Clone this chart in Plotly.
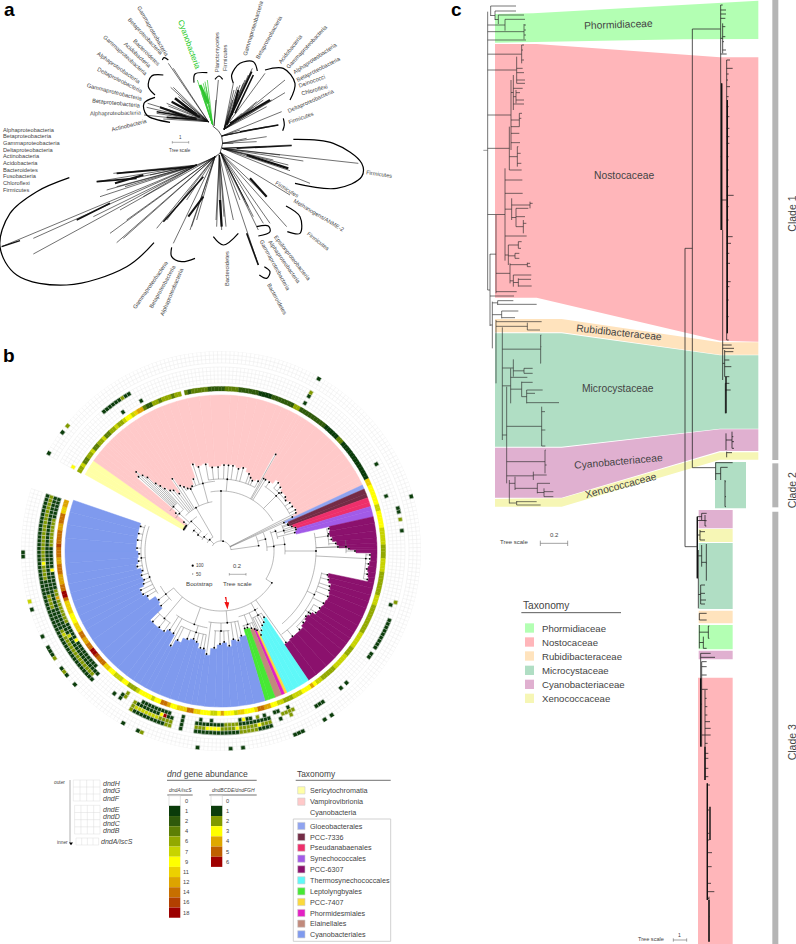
import numpy as np
import plotly.graph_objects as go

FONT = "Liberation Sans"
TXT = "#444444"

# ---------- PANEL A (values read in 3x zoom units) ----------
A_LABELS = [
 ("Gammaproteobacteria",459,92,60),("Betaproteobacteria",435,109,47),("Bacteroidetes",438,157,45),
 ("Acidobacteria",413,165,43),("Gammaproteobacteria",375,165,42),("Alphaproteobacteria",358,204,35),
 ("Deltaproteobacteria",359,240,27),("Gammaproteobacteria",343,277,14),("Betaproteobacteria",349,308,6),
 ("Alphaproteobacteria",347,338,-1),("Actinobacteria",389,376,-14),("Planctomycetes",650,158,-90),
 ("Firmicutes",677,175,-90),("Gammaproteobacteria",760,85,-73),("Betaproteobacteria",808,112,-61),
 ("Acidobacteria",871,147,-52),("Gammaproteobacteria",919,140,-47),("Alphaproteobacteria",946,173,-34),
 ("Betaproteobacteria",956,206,-27),("Deinococci",937,243,-20),("Chloroflexi",942,270,-16),
 ("Deltaproteobacteria",932,304,-24),("Firmicutes",902,355,-20),("Firmicutes",1136,523,8),
 ("Firmicutes",860,567,32),("Methanogens/ANME-2",956,645,31),("Firmicutes",954,723,38),
 ("Epsilonproteobacteria",878,773,52),("Alphaproteobacteria",854,785,55),("Gammaproteobacteria",825,794,61),
 ("Bacteroidetes",832,896,61),("Bacteroidetes",683,805,-90),("Alphaproteobacteria",517,874,-67),
 ("Betaproteobacteria",486,860,-61),("Gammaproteobacteria",451,855,-55),
]
A_LIST = ["Alphaproteobacteria","Betaproteobacteria","Gammaproteobacteria","Deltaproteobacteria","Actinobacteria",
          "Acidobacteria","Bacteroidetes","Fusobacteria","Chloroflexi","Firmicutes"]
A_CENTRAL = [(638,378),(655,392),(665,408),(668,430),(660,460),(645,470)]
A_GROUPS = [
 ((625,365),[(443,310),(440,322),(432,345),(470,340),(490,357),(520,345),(500,310),(505,318),(515,305),(525,295),(535,290),(512,262),(520,262),(545,300),(560,320),(580,340),(505,190),(520,205)]),
 ((642,378),[(655,240),(648,300)]),
 ((672,388),[(757,205),(745,225),(730,250),(700,250),(702,270),(698,300),(712,260),(720,255),(735,240),(795,220),(855,240),(855,278),(800,320),(760,320),(745,335),(770,305),(790,300),(815,300),(735,345),(715,350),(725,340)]),
 ((665,408),[(845,335),(835,375),(800,380),(770,385),(720,390),(700,400)]),
 ((667,430),[(800,410),(770,425),(700,430),(740,415)]),
 ((667,445),[(1075,490),(875,435),(910,483),(930,550),(870,512),(865,495),(840,465),(780,440),(800,440),(820,480),(760,470)]),
 ((662,458),[(870,585),(860,680),(800,590),(775,795),(775,690),(790,670),(760,650),(745,620),(735,600),(720,600),(810,670)]),
 ((658,465),[(650,680),(665,690),(700,660),(660,600),(648,660),(672,650),(678,680)]),
 ((645,470),[(520,730),(590,660),(570,690),(575,680),(470,685),(500,660),(560,600),(370,715),(350,728),(330,700),(380,660),(360,630),(280,650)]),
 ((590,495),[(5,740),(100,715),(100,762),(300,590),(290,545),(340,520),(350,560),(320,570),(430,590),(375,560),(400,535),(450,525),(650,470)]),
]
A_GREEN_ORIGIN = (638,375)
A_GREEN_TIPS = [(592,240),(622,240),(600,255),(605,265),(610,250),(615,245),(618,260),(605,280),(612,290),(620,280)]
A_DENSE = [((525,295),(590,345),2.6),((480,322),(560,350),2.2),((500,352),(590,358),1.6),((515,305),(600,352),2.2),((470,335),(590,355),1.6),((600,255),(625,310),3,"g"),
 ((680,375),(755,215),1.8),((705,340),(760,225),1.6),((690,370),(810,300),2.2),((695,345),(715,270),2.2),((720,395),(835,375),1.4),
 ((710,445),(875,437),1.4),((740,465),(865,505),2.2),((750,535),(800,590),2.2),((740,700),(775,795),1.6),
 ((660,600),(665,680),2.2),((490,665),(610,530),1.6),((565,650),(610,590),2),((290,545),(410,535),1.8),
 ((350,520),(580,500),1.6),((230,660),(330,610),1.6),((5,740),(60,722),1.4),((345,550),(430,525),2)]
A_ARCS = [
 [(487,180),(492,173),(505,180)],[(490,225),(455,228),(445,260),(465,285)],
 [(465,292),(432,310),(440,345),(510,367)],[(582,248),(585,222),(622,218)],
 [(645,238),(657,228),(668,238)],[(700,250),(695,225),(720,190),(760,185),(772,213)],
 [(795,210),(850,205),(885,250),(870,300)],[(850,355),(853,375),(848,392)],
 [(880,418),(1000,430),(1085,490),(1085,530),(1010,565),(885,550)],
 [(858,618),(900,650),(900,700),(862,695)],[(770,680),(805,678),(810,695),(775,708)],
 [(793,800),(810,815),(800,835),(778,825)],[(640,710),(670,735),(715,700)],
 [(515,742),(515,770),(545,785),(585,775)],
 [(462,728),(380,800),(200,855),(50,825),(0,740),(30,640),(110,575),(208,533)],
]

# ---------- PANEL B ----------
B_PALETTE_A = {0:"#ffffff",1:"#0a3b0a",2:"#2f5a0b",4:"#5d7f05",6:"#93a900",7:"#c8d400",9:"#ffff00",
               11:"#ecd000",12:"#dda400",14:"#c76f00",16:"#b24000",18:"#9c0000"}
B_PALETTE_G = {0:"#ffffff",1:"#0b3d0b",2:"#819a00",3:"#ffff00",4:"#dfa800",5:"#bf5f00",6:"#a00000"}
WEDGES = [
 ("#ffffa6",150.6,144.7,[150,148,146],[44,44,44]),
 ("#ffc9c9",144.7,25,[144,142,140,138,137,136,135,134,133,132,130,128,126,124,122,120,118,116,114,111,108,105,100,96,92,88,85,82,78,75,70,68,66,62,60.5,59.5,58,55,50,47,44,40,38,35,32,29,27,25.5],
  [44,48,60,112,117,110,105,95,90,85,80,78,72,88,78,75,72,70,72,78,92,88,89,85,85,87,87,87,85,87,83,80,78,80,112,85,85,85,90,88,85,85,83,85,85,86,85,80]),
 ("#8fa3f0",25,23.4,[24.2],[70]),
 ("#742c46",23.4,20,[22,21],[73,73]),
 ("#ee2f6b",20,16.6,[19,17.5],[76,79]),
 ("#a25be8",16.6,12.7,[16,14],[79,77]),
 ("#8b116d",12.7,-55.9,[11.7,9,6,3.8,2,1,0,-1.5,-3,-5,-7,-9,-11,-12.6,-15,-18,-20,-23,-27,-30,-33,-35,-37.5,-41,-45,-50,-54.6],
  [111,110,112,116,118,129,135,150,150,149,148,149,150,110,112,115,116,117,116,115,114,110,108,110,112,112,113]),
 ("#5ff8f8",-55.9,-65,[-57,-59,-61,-63,-64.5],[80,84,86,90,94]),
 ("#fbd93c",-65,-66,[-65.5],[88]),
 ("#e321c4",-66,-67.2,[-66.6],[86]),
 ("#c18a7c",-67.2,-69.7,[-68.5],[84]),
 ("#47e834",-69.7,-73.6,[-71,-73],[82,82]),
 ("#7f9aee",-73.6,-199,[-76.5,-79,-82,-85,-88,-90.6,-94,-98,-100,-102,-105,-107.3,-111,-116,-118,-120,-123,-125.5,-129,-134,-137.6,-142,-148.5,-151,-154,-157,-159.5,-163,-166,-169.5,-173,-178,-182,-187.5,-192,-197],
  [88,92,90,96,92,94,98,105,100,100,95,93,95,100,108,96,95,99,99,99,82,80,87,90,90,85,83,84,82,86,84,83,85,85,85,85]),
]
TREE_ARCS = [
 (10,150,6,None),(38,23,10,8),(46,24,0,15),(53,22,-32,5),(58,22,12,20),(66,23,15,18),
 (64,13,-3,6),(95,11,-50,0),(108,12,3,8),(125,5,-1,2),(145,-1,-11,-3),(103,-12,-54,-25),(107,-30,-45,-35),
 (60,-32,-142,-32),(68,-57,-75,-60),(74,-57,-65,-60),(78,-66,-74,-70),
 (72,-76,-100,-85),(80,-84,-95,-90),(85,-100,-118,-107),(78,-100,-125,-110),(88,-125,-136,-130),
 (70,-135,-150,-142),(76,-146,-199,-160),(80,-165,-199,-175),
 (16,150,120,135),(22,150,128,140),(28,148,135,145),(34,147,138,143),(42,150,125,135),
 (50,135,100,120),(56,144,132,138),(65,142,133,137),(70,120,95,105),(60,100,30,90),(72,100,62,85),
 (78,56,28,45),(82,50,38,45),
]
A_RING_RUNS = [
 (150.6,6),(149,7),(147,4),(145.5,6),(143,7),(141,4),(139.5,6),(137,7),(135,4),(133,6),(131,7),(129,6),(127,7),(125.5,9),(123,7),
 (122,11),(120.5,12),(118.5,4),(117,2),(115.5,6),(113,4),(111,6),(108,4),(106,6),(104.2,0),(103,4),(102,2),(101,0),(100,4),(95,2),
 (88,4),(84,2),(76,1),(72,2),(63,6),(61.5,2),(50,1),(44,4),(42,1),(26,11),(24,9),(16,7),(14.5,9),(8,7),(2,6),(-3,7),(-8,6),(-16,7),
 (-20,6),(-30,7),(-36,6),(-40,7),(-46,6),(-52,7),(-54,9),(-55,12),(-56.5,9),(-60,7),(-64,6),(-68,7),(-70,9),(-72,12),(-75,14),(-76.5,11),
 (-78,9),(-82,11),(-84,7),(-86,9),(-89,12),(-90.5,9),(-92,7),(-94,9),(-98,11),(-100,14),(-102,11),(-106,9),(-108,12),(-110,14),(-112,9),(-114,7),(-116,9),
 (-120,7),(-122,6),(-125,9),(-128,7),(-131,9),(-134,11),(-136,14),(-139,16),(-141,18),(-143,14),(-146,12),(-148,14),(-150,11),(-154,9),(-158,11),
 (-162,14),(-164,18),(-165.5,14),(-168,12),(-172,14),(-176,12),(-178,14),(-181,16),(-183,14),(-187,12),(-190,14),(-193,11),(-196,12),
]
TRACK_RADII = {"B":168,"C":172,"D":176,"E":180,"F":188,"G":192,"H":196}
TRACK_RUNS = [
 ("E",-198.5,-135.5,1),("D",-198.5,-136,2),("C",-198.5,-135.5,1),("B",-198,-138,1),("B",-190,-182,2),("B",-166,-156,2),
 ("D",-170,-166,1),("D",-160,-154,1),("B",175,179,3),("B",173,174,3),("D",-176.6,-175.6,3),("B",-174.6,-173.6,3),("B",-165,-164,4),("B",-149,-148,3),("D",-152.4,-151.8,7),("C",-151.4,-150.8,7),
 ("C",-97.5,-74.5,1),("D",-97.5,-74.5,2),("E",-97.5,-74.5,1),("D",-94,-91,3),("D",-85.5,-84.5,3),("D",-78.5,-77.5,3),("E",-84,-79,2),
 ("C",-88,-85,2),("B",-97,-96,1),("B",-93.5,-92.5,1),("B",-84,-80,1),("B",-82.5,-81.5,3),("B",-78,-77,2),("B",-75,-74.5,1),
 ("B",-103.5,-103,1),("C",-103.5,-103,1),("D",-103.5,-103,1),("E",-103.5,-103,1),
 ("B",-117,-108,1),("C",-118,-106,1),("C",-108.5,-108,6),("C",-109.8,-109.2,3),("D",-118,-110,7),("D",-110,-106,2),("E",-118.5,-106,1),("E",-108,-106,2),
 ("C",-120,-119.5,2),("D",-120,-119.5,2),("E",-120,-119.5,2),("B",-123.2,-122.8,2),("C",-123.2,-122.8,2),("C",-124.8,-124.3,1),("D",-125,-124.3,1),("D",-126.4,-126,1),
 ("B",60,60.5,1),("D",60,60.5,1),("E",60,60.5,2),("H",60,60.5,1),("D",29,29.5,1),("C",18.5,19,1),("H",16.4,16.8,1),
 ("E",12.7,14,1),("E",10,10.4,2),("E",5.7,6.2,1),("E",-17,-16.5,2),("D",-18.2,-17.8,1),("E",-26,-22.5,1),("E",-31.5,-27,1),
 ("E",-35.7,-34.5,1),("E",-46.2,-45.8,1),("E",-49.2,-48.8,1),("E",-58.5,-56,1),("H",-56.8,-56.4,1),("H",-59,-58.6,1),("H",-68,-65.5,1),
 ("B",-66.4,-66,1),("C",-67.6,-66,2),("D",-67.6,-66.6,2),("B",-71.5,-70,1),("C",-70,-69,2),("D",-70.6,-69.8,1),
 ("H",-84.2,-83.8,1),("H",-87.4,-87,1),("H",-96.9,-96.5,1),("H",-120.1,-119.7,1),("H",-114.9,-114.5,1),("H",-113.7,-113.3,2),
 ("H",-138.2,-137.8,1),("H",-141.3,-140.9,1),("H",-144.2,-143.8,1),("H",-143,-142.6,2),("H",-150.5,-148,1),("H",-147.7,-147.3,2),("H",-154.1,-153.7,1),
 ("H",-163.6,-163.2,1),("H",-165.7,-165.3,7),("H",177,178.6,1),("H",-179.6,-178.2,1),("H",169.8,170.2,1),
 ("H",142.7,143.1,1),("H",140.5,140.9,2),("E",120.5,130.5,1),("E",122,123,2),("B",124.6,125,1),("B",118,118.4,1),
]

LEG_A_LABELS = ["0","1","2","4","6","7","9","11","12","14","16","18"]
LEG_A_VALUES = [0,1,2,4,6,7,9,11,12,14,16,18]
LEG_G_VALUES = [0,1,2,3,4,5,6]
B_TAX_TOP = [("Sericytochromatia","#ffffa6",271),("Vampirovibrionia","#ffc9c9",305)]
B_TAX_LOW = [("Gloeobacterales","#8fa3f0",378),("PCC-7336","#742c46",411),("Pseudanabaenales","#ee2f6b",443),
 ("Synechococcales","#a25be8",476),("PCC-6307","#8b116d",508),("Thermosynechococcales","#5ff8f8",541),
 ("Leptolyngbyales","#47e834",574),("PCC-7407","#fbd93c",606),("Phormidesmiales","#e321c4",639),
 ("Elainellales","#c18a7c",671),("Cyanobacteriales","#7f9aee",703)]
GENE_LABELS = [("dndH",102.7,783.3),("dndG",102.7,790.7),("dndF",102.7,798),("dndE",102.7,809.3),
 ("dndD",102.7,816.3),("dndC",102.7,823.3),("dndB",102.7,830.3),("dndA/iscS",101,841.3)]

# ---------- PANEL C (3x zoom units; clade-3 y values have 1500 added) ----------
C_COL = {"Phormidiaceae":"#b3ffb3","Nostocaceae":"#ffb6ba","Rubidibacteraceae":"#ffe3bd",
         "Microcystaceae":"#b0dec4","Cyanobacteriaceae":"#e0b0d0","Xenococcaceae":"#f6f6b5"}
C_BANDS = [
 ("Phormidiaceae",[135,250,925,925,700,260,135],[42,40,2,117,118,125,128]),
 ("Nostocaceae",[135,260,810,925,925,810,260,135],[132,132,172,172,1025,1022,893,893]),
 ("Rubidibacteraceae",[135,335,810,925,925,810,335,135],[957,957,1027,1027,1064,1064,997,997]),
 ("Microcystaceae",[135,335,810,925,925,810,335,135],[1000,1000,1066,1066,1286,1286,1340,1340]),
 ("Cyanobacteriaceae",[135,335,810,925,925,810,335,135],[1343,1343,1288,1288,1353,1353,1493,1493]),
 ("Xenococcaceae",[135,335,810,925,925,810,335,135],[1497,1495,1357,1357,1379,1379,1520,1520]),
 ("Microcystaceae",[795,888,888,795],[1386,1386,1525,1525]),
 ("Cyanobacteriaceae",[746,848,848,746],[1530,1530,1585,1585]),
 ("Xenococcaceae",[746,848,848,746],[1587,1587,1626,1626]),
 ("Microcystaceae",[746,848,848,746],[1629,1629,1827,1827]),
 ("Rubidibacteraceae",[746,848,848,746],[1832,1832,1870,1870]),
 ("Phormidiaceae",[746,848,848,746],[1875,1875,1948,1948]),
 ("Cyanobacteriaceae",[746,848,848,746],[1952,1952,1978,1978]),
 ("Nostocaceae",[744,848,848,744],[2033,2033,2832,2832]),
]
C_LABELS = [("Phormidiaceae",505,72,-2),("Nostocaceae",522,527,0),("Rubidibacteraceae",507,998,6),
 ("Microcystaceae",505,1165,0),("Cyanobacteriaceae",504,1383,-5),("Xenococcaceae",512,1456,-15)]
CLADE_BARS = [(0,1380),(1390,1522),(1535,2832)]
CLADE_LABELS = [("Clade 1",642),("Clade 2",1472),("Clade 3",2228)]
C_VERTS_L = [
 (113,35,870),(122,18,48),(135,33,60),(145,45,72),(165,58,92),(222,72,118),
 (120,762,978),(138,645,880),(165,505,782),(178,380,510),(183,240,450),(190,225,330),(200,170,250),(215,135,190),
 (185,595,660),(198,625,680),(220,660,700),(240,605,625),(175,735,795),(180,790,850),(190,825,860),(205,835,860),
 (202,440,500),(208,340,380),(198,270,310),(205,725,745),(195,760,775),(232,788,800),
 (127,905,1045),(143,902,915),(155,933,955),(138,960,1150),(157,982,1320),(232,968,990),
 (182,1105,1210),(190,1078,1130),(272,1005,1090),(222,1105,1120),(215,1145,1190),(230,1170,1210),(275,1220,1338),
 (170,1160,1450),(178,1440,1510),(195,1430,1470),(250,1415,1440),(285,1350,1420),(262,1450,1480),(282,1465,1490),(200,1503,1515),
]
C_TIPS_L = [(198,18),(198,33),(222,45),(225,58),(228,75),(228,90),(228,105),(228,120),
 (222,135),(219,150),(222,180),(218,205),(222,218),(225,240),(225,250),(218,265),(210,278),(222,300),(222,312),(216,340),(214,355),(208,380),(208,400),(210,428),(205,440),(212,460),(214,490),(215,510),(217,540),(218,580),
 (248,610),(235,625),(225,650),(229,670),(230,708),(215,725),(213,745),(208,760),(208,775),(240,790),(242,800),(244,825),(243,838),(245,858),(200,875),(192,888),
 (190,902),(260,913),(205,933),(195,953),(275,965),(270,990),(274,1005),(274,1040),(273,1090),(248,1105),(248,1120),(232,1132),
 (248,1147),(278,1170),(255,1180),(327,1208),(285,1235),(286,1290),(286,1338),(287,1350),(290,1395),(290,1425),(300,1450),(310,1475),(310,1490),(260,1505),(272,1515)]
C_STEMS_X = [705,727]
C_VERTS_R = [
 (705,745,1640),(727,87,1403),(812,15,690),(818,70,160),(815,250,690),(830,180,1020),(818,690,1140),(824,1050,1130),(826,1150,1240),
 (828,1300,1350),(846,1295,1345),(830,1355,1372),(797,1388,1440),(812,1402,1440),(825,1440,1520),
 (742,1550,1735),(755,1540,1560),(765,1545,1578),(750,1590,1620),(745,1650,1825),(755,1635,1700),(769,1632,1742),(752,1755,1812),
 (748,1840,1860),(748,1875,1945),(760,1910,1945),(775,1878,1915),(752,1960,2130),(755,1985,2240),(765,2070,2340),(772,2350,2700),(777,2690,2825),
]
C_THICK_R = [(815,250,690),(832,300,1000),(828,1130,1240),(742,1550,1735),(752,2035,2240),(765,2240,2340),(772,2350,2700),(777,2700,2825),(780,2420,2520)]
C_TIPS_R = [(818,15),(828,30),(828,42),(826,55),(826,80),(826,110),(822,125),(828,150),(830,162),
 (840,180),(848,205),(836,222),(834,240),(840,260),(836,290),(836,320),(838,350),(838,385),(838,410),(838,430),(836,470),(836,510),(836,560),(851,586),(836,620),(836,660),(848,710),(843,730),(838,760),(840,790),(842,845),(838,860),(836,900),(836,950),(836,1020),
 (852,1045),(850,1055),(845,1035),(838,1080),(844,1100),(838,1130),(838,1150),(842,1170),(843,1280),(852,1292),(850,1310),(852,1325),(852,1345),(846,1358),(846,1375),
 (848,1388),(833,1402),(827,1445),(828,1490),(828,1520),
 (770,1540),(770,1562),(769,1578),(765,1595),(765,1620),(770,1690),(765,1755),(765,1780),(768,1800),(765,1812),(770,1840),(770,1860),(778,1878),(778,1915),(770,1945),(795,1972),(782,1960),(770,1985),(770,2000),(770,2025),
 (773,2068),(770,2095),(772,2120),(772,2145),(780,2165),(782,2185),(782,2205),(773,2230),(775,2260),(775,2275),(775,2305),(775,2330),(780,2355),(778,2430),(778,2500),(778,2520),(786,2558),(785,2600),(783,2650),(793,2675),(777,2695),(778,2750),(778,2820)]
C_LEGEND = [("Phormidiaceae",384),("Nostocaceae",426),("Rubidibacteraceae",468),("Microcystaceae",511),("Cyanobacteriaceae",553),("Xenococcaceae",595)]

# ---------- helpers ----------
fig = go.Figure()
ann = []
def T(x,y,text,size,angle=0,color=TXT,anchor="center",bold=False):
    t = "<b>%s</b>"%text if bold else text
    ann.append(dict(x=x,y=y,xref="x",yref="y",text=t,showarrow=False,textangle=angle,xanchor=anchor,yanchor="middle",
                    borderpad=0,borderwidth=0,font=dict(family=FONT,size=size,color=color)))
def lines(segs,color="#000",w=0.7):
    xs,ys=[],[]
    for s in segs:
        xs+=[p[0] for p in s]+[None]; ys+=[p[1] for p in s]+[None]
    fig.add_trace(go.Scatter(x=xs,y=ys,mode="lines",line=dict(color=color,width=w),hoverinfo="skip"))
def poly(xs,ys,color):
    fig.add_trace(go.Scatter(x=list(xs)+[xs[0]],y=list(ys)+[ys[0]],mode="lines",fill="toself",fillcolor=color,
                             line=dict(width=0,color=color),hoverinfo="skip"))
def rect(x0,y0,x1,y1,color,border=None):
    fig.add_trace(go.Scatter(x=[x0,x1,x1,x0,x0],y=[y0,y0,y1,y1,y0],mode="lines",fill="toself",fillcolor=color,
                             line=dict(width=0.6 if border else 0,color=border or color),hoverinfo="skip"))
z=lambda p:(p[0]/3,p[1]/3)

# ---------- panel a ----------
T(9,9,"a",19,color="#000",bold=True)
segs=[[z(o),z(t)] for o,tips in A_GROUPS for t in tips]
lines(segs,"#111",0.6)
lines([[z(p) for p in A_CENTRAL]],"#111",0.7)
lines([[z(A_GREEN_ORIGIN),z(t)] for t in A_GREEN_TIPS],"#2fc52f",0.7)
for d in A_DENSE:
    lines([[z(d[0]),z(d[1])]],"#2fc52f" if len(d)>3 else "#111",d[2])
for a in A_ARCS:
    fig.add_trace(go.Scatter(x=[p[0]/3 for p in a],y=[p[1]/3 for p in a],mode="lines",
                             line=dict(color="#000",width=1.2,shape="spline",smoothing=1),hoverinfo="skip"))
for s,x,y,ang in A_LABELS:
    T(x/3,y/3,s,5.7,ang)
T(567/3,134/3,"Cyanobacteria",8,70,color="#22c922")
for i,s in enumerate(A_LIST):
    T(2.7,129.7+i*6.67,s,5.7,anchor="left")
T(541/3,137,"1",4.5); T(541/3,150.7,"Tree scale",4.6)
lines([[(172.3,142.3),(188.7,142.3)],[(172.3,141),(172.3,143.6)],[(188.7,141),(188.7,143.6)]],"#666",0.5)

# ---------- panel b legends ----------
T(9,355,"b",19,color="#000",bold=True)
T(59.3,782.3,"outer",4.8); T(62,842.3,"inner",4.8)
lines([[(70,780),(70,843)]],"#999",0.8)
fig.add_trace(go.Scatter(x=[71],y=[843.5],mode="markers",marker=dict(symbol="triangle-down",size=3.5,color="#000"),hoverinfo="skip"))
for x0,x1,y0,y1,nc,nr in [(73.3,100,780,801,4,3),(74.6,100,805.3,834,4,4),(76,98.7,838,845,4,1)]:
    sg=[[(x0+(x1-x0)*i/nc,y0),(x0+(x1-x0)*i/nc,y1)] for i in range(nc+1)]
    sg+=[[(x0,y0+(y1-y0)*j/nr),(x1,y0+(y1-y0)*j/nr)] for j in range(nr+1)]
    lines(sg,"#dddddd",0.5)
for s,x,y in GENE_LABELS:
    T(x,y,"<i>%s</i>"%s,7,anchor="left")
T(166.7,774,"<i>dnd</i> gene abundance",8.6,anchor="left")
T(180.3,790.3,"<i>dndA/iscS</i>",5); T(233.3,790.3,"<i>dndBCDE/dndFGH</i>",5)
lines([[(167,780.3),(256.7,780.3)],[(167.3,795),(192.7,795)],[(209.3,795),(256.7,795)],[(295.7,780.3),(390.7,780.3)]],"#333",0.7)
for i,(v,l) in enumerate(zip(LEG_A_VALUES,LEG_A_LABELS)):
    y=795.7+i*10.17
    rect(169,y,180.3,y+10.17,B_PALETTE_A[v],"#cccccc" if v==0 else None)
    T(186,y+5,l,5.7)
for i,v in enumerate(LEG_G_VALUES):
    y=795.7+i*10.17
    rect(211,y,222.3,y+10.17,B_PALETTE_G[v],"#cccccc" if v==0 else None)
    T(227.7,y+5,str(v),5.7)
T(296.7,774,"Taxonomy",8.4,anchor="left")
for s,c,zy in B_TAX_TOP+B_TAX_LOW:
    y=700+zy/3
    rect(297.7,y-3.6,305,y+3.6,c,"#cccccc")
    T(310.3,y,s,7.2,anchor="left")
T(310.3,700+338/3,"Cyanobacteria",7.2,anchor="left")
lines([[(293.3,819),(390.7,819),(390.7,941.3),(293.3,941.3),(293.3,819)]],"#cccccc",0.9)
T(200,565.7,"100",4.6); T(199,574,"50",4.6)
T(199,583.3,"Bootstrap",6.2); T(237.3,583.3,"Tree scale",6.2); T(237,565.7,"0.2",5.8)
lines([[(229.3,574.3),(246,574.3)],[(229.3,573),(229.3,575.6)],[(246,573),(246,575.6)]],"#666",0.5)
fig.add_trace(go.Scatter(x=[192.7],y=[565.7],mode="markers",marker=dict(size=2.2,color="#000"),hoverinfo="skip"))
fig.add_trace(go.Scatter(x=[192.7],y=[574],mode="markers",marker=dict(size=1.4,color="#888"),hoverinfo="skip"))

# ---------- panel b polar ----------
bar_t,bar_w,bar_b,bar_r,bar_c=[],[],[],[],[]
for col,a0,a1,angs,rads in WEDGES:
    edges=[a0]+[(angs[i]+angs[i+1])/2 for i in range(len(angs)-1)]+[a1]
    for i,r in enumerate(rads):
        bar_t.append((edges[i]+edges[i+1])/2); bar_w.append(abs(edges[i]-edges[i+1]))
        bar_b.append(r); bar_r.append(156-r); bar_c.append(col)
fig.add_trace(go.Barpolar(theta=bar_t,width=bar_w,base=bar_b,r=bar_r,marker=dict(color=bar_c,line=dict(width=0.5,color=bar_c)),subplot="polar",hoverinfo="skip"))

STEP=1.2
N=int((151-(-199))/STEP)
cell_angles=[151-STEP*(i+0.5) for i in range(N)]
def ring_value(a):
    v=0
    for start,val in A_RING_RUNS:
        if a<=start: v=val
    return v
rt,rc=[],[]
for a in cell_angles:
    v=ring_value(a)
    if v: rt.append(a); rc.append(B_PALETTE_A[v])
fig.add_trace(go.Barpolar(theta=rt,width=[STEP]*len(rt),base=[160]*len(rt),r=[4.6]*len(rt),marker=dict(color=rc,line=dict(width=0.3,color=rc)),subplot="polar",hoverinfo="skip"))

# grid
gth,gr=[],[]
for rs in ([168,172,176,180,184],[188,192,196,200]):
    for r in rs:
        aa=list(np.arange(151,-199.01,-STEP))
        gth+=aa+[None]; gr+=[r]*len(aa)+[None]
    for i in range(N+1):
        a=151-STEP*i
        gth+=[a,a,None]; gr+=[rs[0],rs[-1],None]
fig.add_trace(go.Scatterpolar(theta=gth,r=gr,mode="lines",line=dict(color="#ebebeb",width=0.5),subplot="polar",hoverinfo="skip"))

grid={k:{} for k in TRACK_RADII}
for tr,a0,a1,v in TRACK_RUNS:
    lo,hi=min(a0,a1),max(a0,a1)
    hit=[i for i,a in enumerate(cell_angles) if lo-STEP/2<=a<=hi+STEP/2]
    if hi-lo<STEP:
        hit=[min(range(N),key=lambda i:abs(cell_angles[i]-(lo+hi)/2))]
    for i in hit: grid[tr][i]=v
ct,cb,cc=[],[],[]
for tr,cells in grid.items():
    for i,v in cells.items():
        col=B_PALETTE_A[7] if v==7 else B_PALETTE_G[v]
        ct.append(cell_angles[i]); cb.append(TRACK_RADII[tr]); cc.append(col)
fig.add_trace(go.Barpolar(theta=ct,width=[STEP]*len(ct),base=cb,r=[4]*len(ct),marker=dict(color=cc,line=dict(width=0.3,color=cc)),subplot="polar",hoverinfo="skip"))

# tree in polar
def parent_r(r,a):
    best=None
    for ar,hi,lo,_ in TREE_ARCS:
        if ar<r and lo-1e-6<=a<=hi+1e-6 and (best is None or ar>best): best=ar
    return best
lt,lr,dt,dr=[],[],[],[]
for ar,hi,lo,j in TREE_ARCS:
    aa=list(np.arange(hi,lo,-1.5))+[lo]
    lt+=aa+[None]; lr+=[ar]*len(aa)+[None]
    join=j if j is not None else (hi+lo)/2
    p=parent_r(ar,join)
    if p is not None:
        lt+=[join,join,None]; lr+=[p,ar,None]
    dt.append(join); dr.append(ar)
for col,a0,a1,angs,rads in WEDGES:
    for a,r in zip(angs,rads):
        p=parent_r(r,a)
        if p is None: p=10
        lt+=[a,a,None]; lr+=[p,r,None]
        dt.append(a); dr.append(r-1)
fig.add_trace(go.Scatterpolar(theta=lt,r=lr,mode="lines",line=dict(color="#777777",width=0.5),subplot="polar",hoverinfo="skip"))
fig.add_trace(go.Scatterpolar(theta=dt,r=dr,mode="markers",marker=dict(color="#000",size=1.8),subplot="polar",hoverinfo="skip"))
fig.add_trace(go.Scatter(x=[224.8,226.4,226.9,229.2,227.5,224.4,226.2],y=[597,597,602,602.5,609.5,602,602],mode="lines",fill="toself",
                         fillcolor="#f01010",line=dict(width=0,color="#f01010"),hoverinfo="skip"))

# ---------- panel c ----------
T(456,9,"c",19,color="#000",bold=True)
cx=lambda v:450+v/3
cy=lambda v:v/3
for name,xs,ys in C_BANDS:
    poly([cx(v) for v in xs],[cy(v) for v in ys],C_COL[name])
for a,b in CLADE_BARS:
    rect(cx(967),cy(a),cx(985),cy(b),"#b5b5b5")
def rect_tree(verts,tips,color,w,skip=()):
    segs=[]
    def parent(x,y):
        best=None
        for vx,y0,y1 in verts:
            if vx in skip: continue
            if vx<x and y0<=y<=y1 and (best is None or vx>best): best=vx
        return best
    for vx,y0,y1 in verts:
        segs.append([(cx(vx),cy(y0)),(cx(vx),cy(y1))])
        ym=(y0+y1)/2; p=parent(vx,ym)
        if p is not None: segs.append([(cx(p),cy(ym)),(cx(vx),cy(ym))])
    for x,y in tips:
        p=parent(x,y)
        if p is None: continue
        segs.append([(cx(p),cy(y)),(cx(x),cy(y))])
    lines(segs,color,w)
rect_tree(C_VERTS_L,C_TIPS_L,"#2b2b2b",0.65)
lines([[(cx(100),cy(451)),(cx(113),cy(451))]],"#555",0.6)
rect_tree(C_VERTS_R,C_TIPS_R,"#1c1c1c",0.75,skip=C_STEMS_X)
lines([[(cx(x),cy(a)),(cx(x),cy(b))] for x,a,b in C_THICK_R],"#111",1.4)
lines([[(cx(727),cy(87)),(cx(812),cy(87))],[(cx(727),cy(1403)),(cx(797),cy(1403))],[(cx(705),cy(745)),(cx(727),cy(745))],[(cx(705),cy(1640)),(cx(742),cy(1640))]],"#333",0.8)
for s,x,y,ang in C_LABELS:
    T(cx(x),cy(y),s,10.3,ang)
for s,y in CLADE_LABELS:
    T(cx(1025),cy(y),s,10.5,-90)
T(cx(192),cy(1627),"Tree scale",6); T(cx(313),cy(1606),"0.2",6)
lines([[(cx(271),cy(1630)),(cx(353),cy(1630))],[(cx(271),cy(1622)),(cx(271),cy(1638))],[(cx(353),cy(1622)),(cx(353),cy(1638))]],"#666",0.6)
T(cx(603),cy(2816),"Tree scale",5.6); T(cx(688),cy(2804),"1",5.2)
lines([[(cx(670),cy(2820)),(cx(710),cy(2820))],[(cx(670),cy(2815)),(cx(670),cy(2825))],[(cx(710),cy(2815)),(cx(710),cy(2825))]],"#666",0.6)
T(cx(220),cy(1816),"Taxonomy",10.2,anchor="left")
lines([[(cx(214),cy(1838)),(cx(513),cy(1838))]],"#333",0.8)
for s,zy in C_LEGEND:
    y=zy+1500
    rect(cx(225),cy(y-14),cx(252),cy(y+14),C_COL[s])
    T(cx(275),cy(y),s,9.6,anchor="left")

fig.update_layout(
    width=796,height=944,autosize=False,margin=dict(l=0,r=0,t=0,b=0,pad=0),
    paper_bgcolor="#fff",plot_bgcolor="rgba(0,0,0,0)",showlegend=False,annotations=ann,
    xaxis=dict(range=[0,796],visible=False,fixedrange=True,domain=[0,1]),
    yaxis=dict(range=[944,0],visible=False,fixedrange=True,domain=[0,1]),
    polar=dict(domain=dict(x=[(221-200)/796,(221+200)/796],y=[1-(551+200)/944,1-(551-200)/944]),
               bgcolor="rgba(0,0,0,0)",barmode="overlay",bargap=0,
               radialaxis=dict(range=[0,200],visible=False),
               angularaxis=dict(visible=False,rotation=0,direction="counterclockwise")),
    font=dict(family=FONT),
)
fig.write_html("out.html",config={"displayModeBar":False},
               post_script="document.body.style.margin='0';document.documentElement.style.overflow='hidden';")
